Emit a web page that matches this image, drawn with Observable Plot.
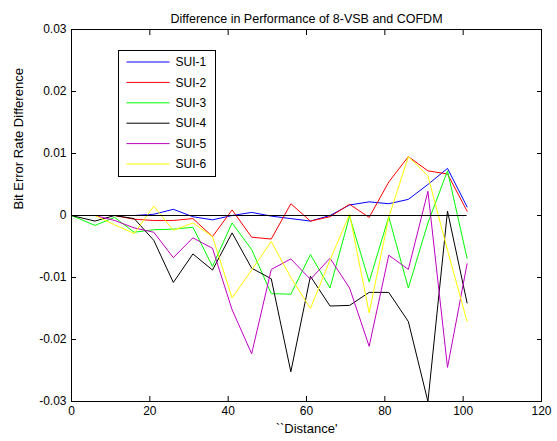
<!DOCTYPE html>
<html>
<head>
<meta charset="utf-8">
<script src="https://cdn.jsdelivr.net/npm/d3@7"></script>
<script src="https://cdn.jsdelivr.net/npm/@observablehq/plot@0.6"></script>
<style>
  html, body { margin: 0; padding: 0; background: #fff; }
  #chart svg { display: block; }
</style>
</head>
<body>
<div id="chart"></div>
<script>
// ---- data ----
const distance = [0, 6, 11, 16, 21, 26, 31, 36, 41, 46, 51, 56, 61, 66, 71, 76, 81, 86, 91, 96, 101];
const sui1 = [0, 0, 0, 0, 0.0002, 0.0010, -0.0002, -0.0007, 0, 0.0005, -0.0001, -0.0005, -0.0009, 0, 0.0017, 0.0022, 0.0019, 0.0026, 0.0050, 0.0076, 0.0014];
const sui2 = [0, 0, 0, -0.0006, -0.0008, -0.0008, -0.0005, -0.0034, 0.0009, -0.0035, -0.0038, 0.0019, -0.0009, -0.0002, 0.0018, -0.0003, 0.0054, 0.0095, 0.0072, 0.0067, 0.0007];
const sui3 = [0, -0.0016, -0.0003, -0.0027, -0.0023, -0.0022, -0.0019, -0.0082, -0.0012, -0.0055, -0.0126, -0.0127, -0.0063, -0.0117, -0.0001, -0.0107, -0.0002, -0.0117, -0.0012, 0.0072, -0.0069];
const sui4 = [0, -0.0009, 0, -0.0005, -0.0040, -0.0108, -0.0062, -0.0088, -0.0028, -0.0085, -0.0102, -0.0252, -0.0098, -0.0146, -0.0145, -0.0124, -0.0124, -0.0171, -0.0300, 0.0007, -0.0141];
const sui5 = [0, 0, -0.0008, -0.0020, -0.0027, -0.0068, -0.0036, -0.0053, -0.0152, -0.0223, -0.0087, -0.0070, -0.0103, -0.0069, -0.0117, -0.0211, -0.0064, -0.0087, 0.0039, -0.0245, -0.0078];
const sui6 = [0, 0, -0.0015, -0.0029, 0.0015, -0.0024, -0.0012, -0.0034, -0.0133, -0.0088, -0.0042, -0.0100, -0.0150, -0.0072, 0.0002, -0.0157, -0.0003, 0.0095, 0.0064, -0.0056, -0.0171];

const seriesNames = ["SUI-1", "SUI-2", "SUI-3", "SUI-4", "SUI-5", "SUI-6"];
const seriesColors = ["#0000ff", "#ff0000", "#00ff00", "#000000", "#c000c0", "#ffff00"];
const seriesValues = [sui1, sui2, sui3, sui4, sui5, sui6];

const xTicks = [0, 20, 40, 60, 80, 100, 120];
const yTicks = [-0.03, -0.02, -0.01, 0, 0.01, 0.02, 0.03];
const yTickLabels = ["-0.03", "-0.02", "-0.01", "0", "0.01", "0.02", "0.03"];

const titleText = "Difference in Performance of 8-VSB and COFDM";
const xLabelText = "``Distance'";
const yLabelText = "Bit Error Rate Difference";

// ---- long table built from the arrays ----
const table = [];
seriesNames.forEach((name, s) => {
  distance.forEach((d, i) => table.push({series: name, distance: d, value: seriesValues[s][i]}));
});

const W = 557, H = 441;
const mL = 71, mR = 16, mT = 29, mB = 40;
const font = "'Liberation Sans', Arial, Helvetica, sans-serif";

const chart = Plot.plot({
  width: W,
  height: H,
  marginLeft: mL,
  marginRight: mR,
  marginTop: mT,
  marginBottom: mB,
  style: {fontFamily: font, fontSize: "12px", color: "#000", background: "#fff"},
  x: {domain: [0, 120]},
  y: {domain: [-0.03, 0.03]},
  color: {domain: seriesNames, range: seriesColors},
  marks: [
    // tick labels
    Plot.axisX(xTicks, {anchor: "bottom", tickSize: 0, tickPadding: 5, label: null, fontSize: 12}),
    Plot.axisY(yTicks, {anchor: "left", tickSize: 0, tickPadding: 5, label: null, fontSize: 12,
      tickFormat: d => yTickLabels[yTicks.indexOf(d)]}),
    // inward ticks on all four sides
    Plot.axisX(xTicks, {anchor: "bottom", tickSize: 5, dy: -5, tickFormat: () => "", label: null}),
    Plot.axisX(xTicks, {anchor: "top", tickSize: 5, dy: 5, tickFormat: () => "", label: null}),
    Plot.axisY(yTicks, {anchor: "left", tickSize: 5, dx: 5, tickFormat: () => "", label: null}),
    Plot.axisY(yTicks, {anchor: "right", tickSize: 5, dx: -5, tickFormat: () => "", label: null}),
    // series
    Plot.line(table, {x: "distance", y: "value", z: "series", stroke: "series", strokeWidth: 1}),
    // zero reference line
    Plot.ruleY([0], {x1: distance[0], x2: distance[distance.length - 1], stroke: "#000", strokeWidth: 1}),
    Plot.frame({stroke: "#000", strokeWidth: 1}),
    // title and axis labels
    Plot.text([titleText], {frameAnchor: "top", dy: -15, fontSize: 12.5, fill: "#000"}),
    Plot.text([xLabelText], {frameAnchor: "bottom", dy: 31, fontSize: 13, fill: "#000"}),
    Plot.text([yLabelText], {frameAnchor: "left", dx: -53, dy: -6, rotate: -90, fontSize: 13, fill: "#000"})
  ]
});

document.getElementById("chart").appendChild(chart);

// ---- legend box inside the axes (MATLAB style) ----
const svg = d3.select(chart);
const lg = svg.append("g").attr("transform", `translate(${mL + 47.5},${mT + 21.5})`);
const boxW = 97, rowH = 20.4, boxH = 126;
lg.append("rect").attr("x", 0).attr("y", 0).attr("width", boxW).attr("height", boxH)
  .attr("fill", "#fff").attr("stroke", "#000").attr("stroke-width", 1);
seriesNames.forEach((name, i) => {
  const cy = 11.5 + i * rowH;
  lg.append("line").attr("x1", 8).attr("x2", 51).attr("y1", cy).attr("y2", cy)
    .attr("stroke", seriesColors[i]).attr("stroke-width", 1);
  lg.append("text").attr("x", 57).attr("y", cy).attr("dy", "0.35em")
    .attr("text-anchor", "start")
    .attr("font-family", font).attr("font-size", 12).attr("fill", "#000").text(name);
});
</script>
</body>
</html>
